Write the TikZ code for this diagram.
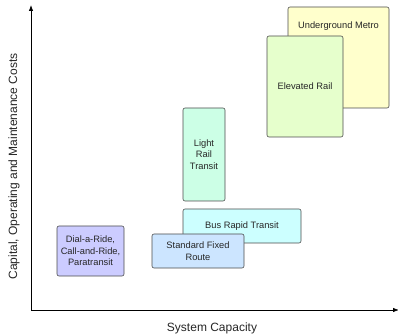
\documentclass[tikz,border=0pt]{standalone}
\usepackage{fontspec}
\setmainfont{Liberation Sans}
\usetikzlibrary{arrows.meta}

\definecolor{metrofill}{HTML}{FFFFCC}
\definecolor{elevfill}{HTML}{E6FFCC}
\definecolor{lrtfill}{HTML}{CCFFE6}
\definecolor{brtfill}{HTML}{CCFFFF}
\definecolor{routefill}{HTML}{CCE5FF}
\definecolor{dialfill}{HTML}{CCCCFF}

\begin{document}
\begin{tikzpicture}[x=1pt, y=-1pt,
  every node/.style={font=\fontsize{9.3}{11.6}\selectfont, text=black!85},
  mode/.style={draw=black!70, line width=0.6pt, rounded corners=2pt, inner sep=0pt, align=center},
  axislabel/.style={font=\fontsize{12}{14}\selectfont}]
  \useasboundingbox (0,0) rectangle (398,336);

  % axes
  \coordinate (origin) at (31,310);
  \coordinate (ytop) at (31,5);
  \coordinate (xend) at (399,310);
  \draw[line width=0.8pt, -{Latex[length=6pt,width=4.5pt]}] (origin) -- (ytop);
  \draw[line width=0.8pt, -{Latex[length=6pt,width=4.5pt]}] (origin) -- (xend);
  \node[axislabel, rotate=90] (ylabel) at (14,166.5) {Capital, Operating and Maintenance Costs};
  \node[axislabel] (xlabel) at (212,328) {System Capacity};

  % rail modes (top right)
  \node[mode, fill=metrofill, minimum width=101pt, minimum height=101pt] (metro) at (338.5,57.5) {};
  \node (metrotext) at ([yshift=-19pt]metro.north) {Underground Metro};
  \node[mode, fill=elevfill, minimum width=76pt, minimum height=101pt] (elevated) at (305,86.5) {Elevated Rail};
  \node[mode, fill=lrtfill, minimum width=42pt, minimum height=93pt] (lrt) at (204,154.5) {Light\\Rail\\Transit};

  % bus modes
  \node[mode, fill=brtfill, minimum width=118pt, minimum height=34pt] (brt) at (242,226) {Bus Rapid Transit};
  \node[mode, fill=routefill, minimum width=92pt, minimum height=34pt] (route) at (198,251) {Standard Fixed\\Route};

  % demand responsive
  \node[mode, fill=dialfill, minimum width=67pt, minimum height=50pt] (dial) at (90.5,251) {Dial-a-Ride,\\Call-and-Ride,\\Paratransit};
\end{tikzpicture}
\end{document}
